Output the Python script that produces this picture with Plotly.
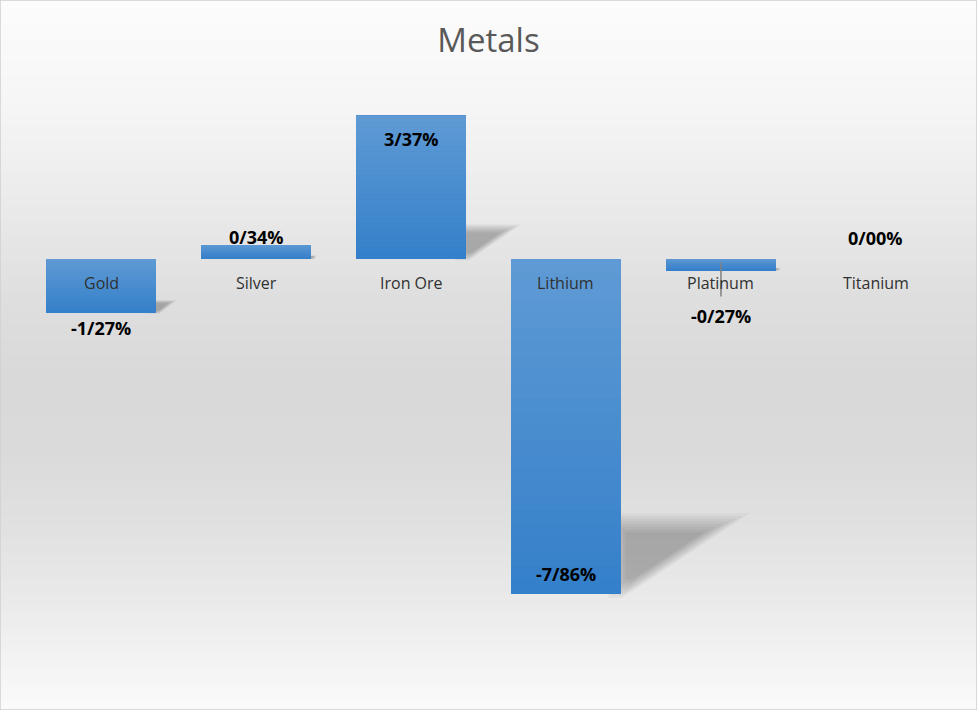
import plotly.graph_objects as go

# ---- data ----
CATEGORIES = ["Gold", "Silver", "Iron Ore", "Lithium", "Platinum", "Titanium"]
VALUES = [-1.27, 0.34, 3.37, -7.86, -0.27, 0.00]
TITLE = "Metals"

# ---- style ----
W, H = 977, 710
BAR_W = 0.71
BAR_COLOR = "#3580ca"                       # darker base; lighter overlay at top
LABEL_SHIFT = [-15, 8, -24, 20, -45, 21]   # pixel offsets of value labels
CAT_SHIFT = -24                             # pixel offset of category labels
X_RANGE = [-0.652, 5.652]
Y_RANGE = [-10.575, 6.073]
BG_STOPS = [(0, 252), (100, 246), (200, 235), (300, 222), (380, 217),
            (450, 218), (530, 225), (600, 234), (660, 243), (710, 250)]


def fmt(v):
    return f"{v:.2f}".replace(".", "/") + "%"


def grey_at(py):
    for (a, ga), (b, gb) in zip(BG_STOPS[:-1], BG_STOPS[1:]):
        if a <= py <= b:
            t = (py - a) / (b - a)
            return round(ga + (gb - ga) * t)
    return BG_STOPS[-1][1]


idx = list(range(len(CATEGORIES)))

fig = go.Figure()
fig.add_trace(go.Bar(
    x=idx, y=VALUES, width=BAR_W,
    marker=dict(color=BAR_COLOR, line=dict(width=0)),
    hovertext=CATEGORIES, hoverinfo="text+y",
))

shapes = []
# background gradient
step = 5
for k in range(0, H, step):
    g = grey_at(k + step / 2)
    shapes.append(dict(type="rect", xref="paper", yref="paper",
                       x0=0, x1=1, y0=1 - (k + step) / H, y1=1 - k / H,
                       fillcolor=f"rgb({g},{g},{g})", line=dict(width=0),
                       layer="below"))

# perspective shadows (soft, layered)
for i, v in zip(idx, VALUES):
    a = abs(v)
    if a < 0.05:
        continue
    R = i + BAR_W / 2
    B = min(v, 0)
    h = 0.23 * a
    dx = 0.098 * a
    pts = [(R - 0.06, B), (R - 0.06, B + h), (R + dx, B + h), (R + 0.02, B)]
    cx = sum(p[0] for p in pts) / 4
    cy = sum(p[1] for p in pts) / 4
    for s in [1.1, 1.03, 0.96, 0.89, 0.82, 0.75, 0.68, 0.61]:
        q = [(cx + (px - cx) * s, cy + (py - cy) * s) for px, py in pts]
        path = "M " + " L ".join(f"{px:.4f},{py:.4f}" for px, py in q) + " Z"
        shapes.append(dict(type="path", xref="x", yref="y", path=path,
                           fillcolor="rgba(0,0,0,0.036)", line=dict(width=0),
                           layer="below"))

# vertical light gradient over each bar (lighter at the top)
N = 24
for i, v in zip(idx, VALUES):
    if abs(v) < 1e-9:
        continue
    lo, hi = min(v, 0), max(v, 0)
    for k in range(N):
        y0 = lo + (hi - lo) * k / N
        y1 = lo + (hi - lo) * (k + 1) / N
        alpha = 0.21 * (k + 0.5) / N
        shapes.append(dict(type="rect", xref="x", yref="y",
                           x0=i - BAR_W / 2, x1=i + BAR_W / 2, y0=y0, y1=y1,
                           fillcolor=f"rgba(255,255,255,{alpha:.3f})",
                           line=dict(width=0), layer="above"))

# leader line for Platinum label
shapes.append(dict(type="line", xref="x", yref="y", x0=4, x1=4,
                   ysizemode="pixel", yanchor=VALUES[4], y0=8, y1=-26,
                   line=dict(color="#808080", width=1.5)))

# outer border
shapes.append(dict(type="rect", xref="paper", yref="paper", x0=0, x1=1,
                   y0=0, y1=1, line=dict(color="#d0d0d0", width=1.5),
                   fillcolor="rgba(0,0,0,0)"))

annotations = []
for i, c in zip(idx, CATEGORIES):
    annotations.append(dict(x=i, y=0, xref="x", yref="y", text=c,
                            showarrow=False, yshift=CAT_SHIFT,
                            yanchor="middle", xanchor="center",
                            font=dict(family="Open Sans", size=16,
                                      color="#303030")))
for i, v, s in zip(idx, VALUES, LABEL_SHIFT):
    annotations.append(dict(x=i, y=v, xref="x", yref="y", text=fmt(v),
                            showarrow=False, yshift=s,
                            yanchor="middle", xanchor="center",
                            font=dict(family="Open Sans", size=18,
                                      color="#000000", weight=700)))

fig.update_layout(
    width=W, height=H,
    margin=dict(l=0, r=0, t=0, b=0),
    paper_bgcolor="#f4f4f4", plot_bgcolor="rgba(0,0,0,0)",
    separators="/,",
    title=dict(text=TITLE, x=0.5, xanchor="center", xref="paper",
               y=1 - 40 / H, yanchor="middle", yref="container",
               font=dict(family="Open Sans", size=33, color="#595959")),
    xaxis=dict(range=X_RANGE, visible=False, fixedrange=True),
    yaxis=dict(range=Y_RANGE, visible=False, fixedrange=True,
               zeroline=False),
    shapes=shapes,
    annotations=annotations,
    showlegend=False,
    bargap=0,
)

fig.write_html("out.html", config=dict(displayModeBar=False),
               post_script="document.body.style.margin='0';"
                           "document.body.style.overflow='hidden';")
